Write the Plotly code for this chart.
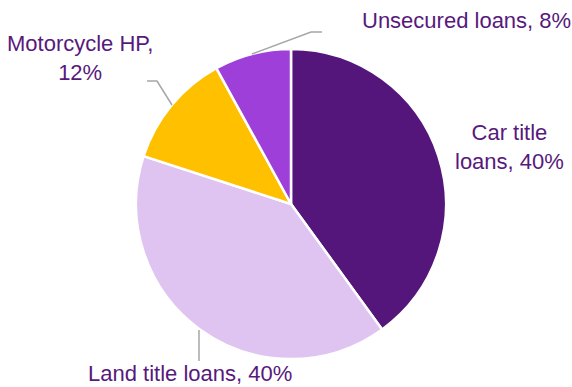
import plotly.graph_objects as go

# Data
categories = ["Car title loans", "Land title loans", "Motorcycle HP", "Unsecured loans"]
shares = [40, 40, 12, 8]
colors = ["#54167A", "#DFC4F2", "#FFC000", "#9E3FDA"]

W, H = 572, 387
TEXT_COLOR = "#57197C"
LINE_COLOR = "#A6A6A6"
FONT = "Tahoma, 'Liberation Sans', Arial, sans-serif"


def px(x, y):
    return x / W, 1 - y / H


cx, cy, r = 291, 204, 155
x0, y1 = px(cx - r, cy - r)
x1, y0 = px(cx + r, cy + r)

fig = go.Figure(
    go.Pie(
        labels=categories,
        values=shares,
        sort=False,
        direction="clockwise",
        rotation=0,
        marker=dict(colors=colors, line=dict(color="white", width=2.5)),
        textinfo="none",
        hoverinfo="label+percent",
        domain=dict(x=[x0, x1], y=[y0, y1]),
        showlegend=False,
    )
)

# Labels (text from data)
label_specs = [
    (0, "Car title<br>loans, {}%", 509, 147),
    (1, "Land title loans, {}%", 190, 373),
    (2, "Motorcycle HP,<br>{}%", 80, 58),
    (3, "Unsecured loans, {}%", 466, 21),
]
for idx, tmpl, lx, ly in label_specs:
    ax_, ay_ = px(lx, ly)
    fig.add_annotation(
        x=ax_, y=ay_, xref="paper", yref="paper",
        text=tmpl.format(shares[idx]),
        showarrow=False, xanchor="center", yanchor="middle",
        align="center",
        font=dict(family=FONT, size=22, color=TEXT_COLOR),
    )

# Leader lines
leaders = [
    [(252, 54), (311, 32), (322, 32)],
    [(172, 105), (157, 81), (147, 81)],
    [(199, 330), (199, 361)],
]
for pts in leaders:
    path = ""
    for i, (x, y) in enumerate(pts):
        X, Y = px(x, y)
        path += ("M" if i == 0 else "L") + f"{X},{Y} "
    fig.add_shape(type="path", path=path.strip(), xref="paper", yref="paper",
                  line=dict(color=LINE_COLOR, width=1.5))

fig.update_layout(
    width=W, height=H,
    margin=dict(l=0, r=0, t=0, b=0),
    paper_bgcolor="white", plot_bgcolor="white",
)

fig.write_html("out.html")
